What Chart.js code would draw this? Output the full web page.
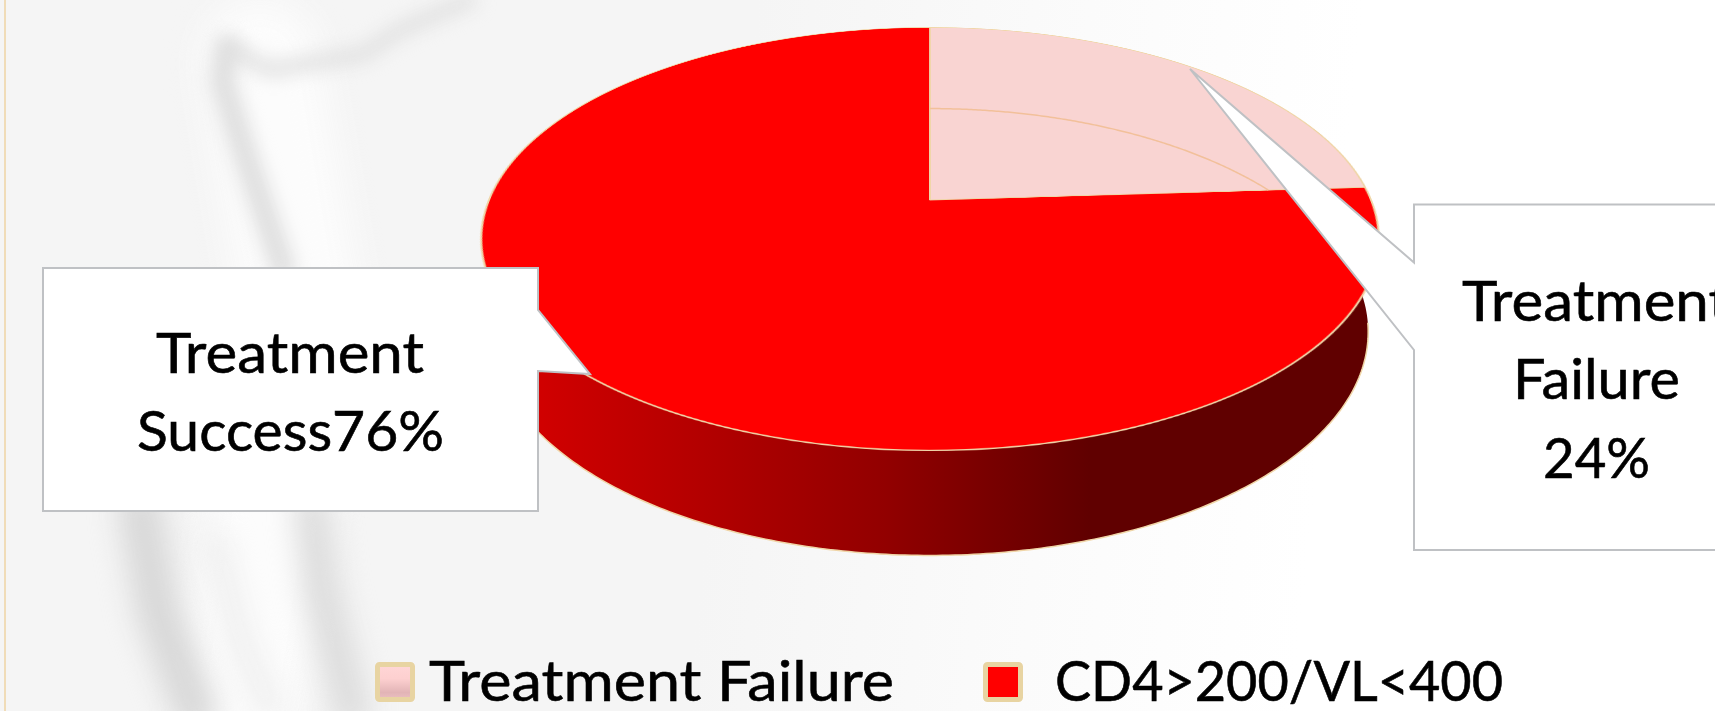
<!DOCTYPE html>
<html>
<head>
<meta charset="utf-8">
<script src="https://cdn.jsdelivr.net/npm/chart.js@4/dist/chart.umd.min.js"></script>
<style>
  html, body { margin: 0; padding: 0; width: 1715px; height: 711px; overflow: hidden; background: #fff; }
  #stage, #bg, #side, #rim, #labels, #tilt { position: absolute; left: 0; top: 0; width: 1715px; height: 711px; }
  #stage { overflow: hidden; }
  #tilt { perspective: 2123px; perspective-origin: 930px 200px; }
  #wrap { position: absolute; left: 480px; top: -250px; width: 900px; height: 900px; transform-origin: 450px 450px; transform: rotateX(62.4deg); }
  #labels text { font-family: Lato, Carlito, "Open Sans", sans-serif; font-size: 56px; fill: #000; stroke: #000; stroke-width: 0.6px; }
</style>
</head>
<body>
<div id="stage">
  <canvas id="bg" width="1715" height="711"></canvas>
  <canvas id="side" width="1715" height="711"></canvas>
  <div id="tilt"><div id="wrap"><canvas id="pie" width="900" height="900"></canvas></div></div>
  <canvas id="rim" width="1715" height="711"></canvas>
  <svg id="labels" viewBox="0 0 1715 711"></svg>
</div>
<script>
const categories = ["Treatment Failure", "CD4>200/VL<400"];
const values = [24, 76];
const sliceColors = ["#f9d4d2", "#ff0000"];
const edgeColor = "#f0d6a8";

// tilt of the pie, same numbers as the css transform on #wrap
const tilt = 62.4 * Math.PI / 180;
const camera = 2123;
const depth = 106;
const centerX = 930;
const centerY = 200;

const project = (angle, radius, h) => {
  const u = radius * Math.cos(angle);
  const v = -radius * Math.sin(angle);
  const y = v * Math.cos(tilt) - h * Math.sin(tilt);
  const scale = camera / (camera + v * Math.sin(tilt) + h * Math.cos(tilt));
  return [centerX + u * scale, centerY - y * scale];
};

// grey smudge in the background
const drawBackground = () => {
  const ctx = document.getElementById("bg").getContext("2d");
  const base = ctx.createLinearGradient(0, 0, 1500, 150);
  base.addColorStop(0, "#f5f5f5");
  base.addColorStop(0.5, "#f5f5f5");
  base.addColorStop(0.72, "#fbfbfb");
  base.addColorStop(0.9, "#ffffff");
  ctx.fillStyle = base;
  ctx.fillRect(0, 0, 1715, 711);

  ctx.filter = "blur(18px)";
  ctx.strokeStyle = "#fcfcfc";
  ctx.lineCap = "round";
  ctx.lineJoin = "round";
  ctx.lineWidth = 120;
  ctx.beginPath();
  ctx.moveTo(260, 60);
  ctx.lineTo(300, 300);
  ctx.lineTo(240, 711);
  ctx.stroke();

  const smudge = (pts, width, color) => {
    ctx.strokeStyle = color;
    ctx.lineWidth = width;
    ctx.beginPath();
    ctx.moveTo(pts[0][0], pts[0][1]);
    for (let i = 1; i < pts.length; i++) ctx.lineTo(pts[i][0], pts[i][1]);
    ctx.stroke();
  };
  ctx.filter = "blur(9px)";
  smudge([[470, 0], [400, 30], [364, 54], [270, 70], [228, 48]], 14, "#e0e0e0");
  smudge([[228, 48], [222, 80], [245, 154], [283, 268]], 24, "#dedede");
  ctx.filter = "blur(14px)";
  smudge([[140, 510], [158, 612], [195, 711]], 44, "#d8d8d8");
  smudge([[312, 510], [322, 590], [352, 711]], 36, "#dcdcdc");
  smudge([[215, 540], [240, 640], [272, 711]], 20, "#ececec");
  ctx.filter = "none";

  ctx.fillStyle = "#f0dcb8";
  ctx.fillRect(4, 0, 2, 711);
};

// the rim of the pie is not something the pie element can do, so add it from the arc's angles
const rimPlugin = {
  id: "rim3d",
  afterDraw(chart) {
    const arcs = chart.getDatasetMeta(0).data;
    const radius = arcs[0].outerRadius;
    const ctx = document.getElementById("side").getContext("2d");
    const from = -22 * Math.PI / 180;
    const to = 202 * Math.PI / 180;
    const steps = 240;

    const shade = ctx.createLinearGradient(520, 0, 1090, 0);
    shade.addColorStop(0, "#d40000");
    shade.addColorStop(0.64, "#920000");
    shade.addColorStop(1, "#600000");
    ctx.fillStyle = shade;
    ctx.beginPath();
    for (let i = 0; i <= steps; i++) {
      const p = project(from + (to - from) * i / steps, radius, 0);
      if (i === 0) ctx.moveTo(p[0], p[1]); else ctx.lineTo(p[0], p[1]);
    }
    for (let i = steps; i >= 0; i--) {
      const p = project(from + (to - from) * i / steps, radius, depth);
      ctx.lineTo(p[0], p[1]);
    }
    ctx.closePath();
    ctx.fill();

    ctx.strokeStyle = edgeColor;
    ctx.lineWidth = 1.5;
    ctx.beginPath();
    for (let i = 0; i <= steps; i++) {
      const a = (8 + 164 * i / steps) * Math.PI / 180;
      const p = project(a, radius, depth);
      if (i === 0) ctx.moveTo(p[0], p[1]); else ctx.lineTo(p[0], p[1]);
    }
    ctx.stroke();

    // back rim seen through the pale slice, stops at the slice edge
    const over = document.getElementById("rim").getContext("2d");
    const end = project(arcs[0].endAngle, radius, 0);
    over.strokeStyle = "#f2c09a";
    over.lineWidth = 1.5;
    over.beginPath();
    for (let i = 0; i <= steps; i++) {
      const a = arcs[0].startAngle + (arcs[0].endAngle - arcs[0].startAngle) * i / steps;
      const p = project(a, radius, depth);
      const edgeY = centerY + (end[1] - centerY) * (p[0] - centerX) / (end[0] - centerX);
      if (p[1] > edgeY) break;
      if (i === 0) over.moveTo(p[0], p[1]); else over.lineTo(p[0], p[1]);
    }
    over.stroke();
  }
};

new Chart(document.getElementById("pie"), {
  type: "pie",
  plugins: [rimPlugin],
  data: {
    labels: categories,
    datasets: [{
      data: values,
      backgroundColor: sliceColors,
      borderColor: edgeColor,
      borderWidth: 2
    }]
  },
  options: {
    responsive: false,
    animation: false,
    devicePixelRatio: 2,
    radius: 441,
    layout: { padding: 0 },
    plugins: { legend: { display: false }, tooltip: { enabled: false } }
  }
});

const svg = document.getElementById("labels");
const NS = "http://www.w3.org/2000/svg";

const addShape = (tag, attrs) => {
  const el = document.createElementNS(NS, tag);
  for (const k in attrs) el.setAttribute(k, attrs[k]);
  svg.appendChild(el);
  return el;
};

const addText = (str, x, y, width) => {
  const t = addShape("text", { x: x, y: y, textLength: width, lengthAdjust: "spacingAndGlyphs" });
  t.textContent = str;
};

// callouts
addShape("polygon", {
  points: "43,268 538,268 538,310 590,374 538,371 538,511 43,511",
  fill: "#fff", stroke: "#bfc1c4", "stroke-width": 2
});
addShape("polygon", {
  points: "1414,204.5 1720,204.5 1720,550 1414,550 1414,350 1190,69 1414,262.5",
  fill: "#fff", stroke: "#bfc1c4", "stroke-width": 2
});
addText("Treatment", 156, 373, 268);
addText(`Success${values[1]}%`, 137, 451, 307);
addText("Treatment", 1462, 321, 268);
addText("Failure", 1513, 399, 167);
addText(`${values[0]}%`, 1543, 478, 107);

// legend
const defs = addShape("defs", {});
const grad = document.createElementNS(NS, "linearGradient");
grad.setAttribute("id", "paleKey");
grad.setAttribute("x2", "0");
grad.setAttribute("y2", "1");
grad.innerHTML = '<stop offset="0" stop-color="#ffd6d6"/><stop offset="0.4" stop-color="#fdd0d0"/><stop offset="0.8" stop-color="#e2b4b6"/><stop offset="1" stop-color="#ecc0c2"/>';
defs.appendChild(grad);

const legendX = [375, 983];
const legendText = [[429, 465], [1055, 448]];
categories.forEach((name, i) => {
  addShape("rect", {
    x: legendX[i] + 2.5, y: 664.5, width: 35, height: 35, rx: 2,
    fill: i === 0 ? "url(#paleKey)" : sliceColors[i],
    stroke: "#e8d4a2", "stroke-width": 5
  });
  addText(name, legendText[i][0], 700.5, legendText[i][1]);
});

drawBackground();
</script>
</body>
</html>
